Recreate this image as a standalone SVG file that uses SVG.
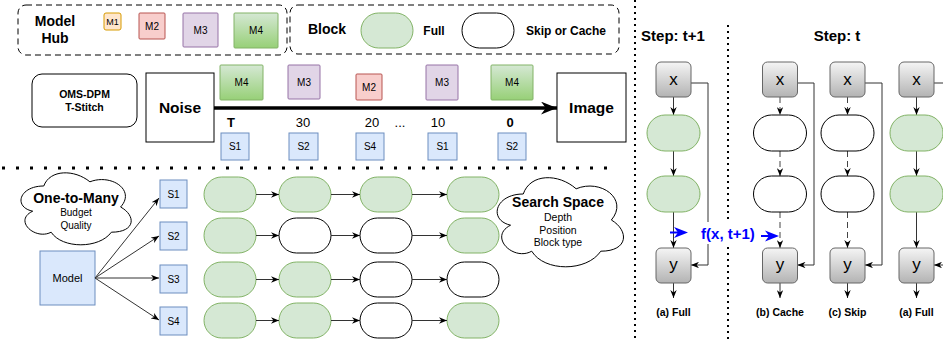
<svg xmlns="http://www.w3.org/2000/svg" width="943" height="339" viewBox="0 0 943 339">
<style>
text{font-family:"Liberation Sans",Arial,sans-serif;text-anchor:middle;fill:#000}
.b{font-weight:bold}
.dash{fill:none;stroke:#000;stroke-width:1;stroke-dasharray:6 4}
.full{fill:#d5e8d4;stroke:#82b366;stroke-width:1}
.empty{fill:#fff;stroke:#000;stroke-width:1}
.blue{fill:#dae8fc;stroke:#6c8ebf;stroke-width:1}
.gbox{fill:url(#gray);stroke:#666;stroke-width:1}
.ln{fill:none;stroke:#333;stroke-width:1;marker-end:url(#ah)}
.dl{fill:none;stroke:#444;stroke-width:1;stroke-dasharray:6 4;marker-end:url(#ah)}
.dotv{stroke:#000;stroke-width:2;stroke-dasharray:2 4}
.doth{stroke:#000;stroke-width:3;stroke-dasharray:3 11}
</style>
<defs>
<linearGradient id="green" x1="0" y1="0" x2="0" y2="1"><stop offset="0" stop-color="#d5e8d4"/><stop offset="1" stop-color="#97d077"/></linearGradient>
<linearGradient id="gray" x1="0" y1="0" x2="0" y2="1"><stop offset="0" stop-color="#f5f5f5"/><stop offset="1" stop-color="#b3b3b3"/></linearGradient>
<marker id="ah" viewBox="0 0 10 8" refX="10" refY="4" markerWidth="8" markerHeight="6.4" orient="auto" markerUnits="userSpaceOnUse"><path d="M0,0 L10,4 L0,8 L3,4 Z" fill="#000"/></marker>
<marker id="big" viewBox="0 0 10 8" refX="10" refY="4" markerWidth="16" markerHeight="13" orient="auto" markerUnits="userSpaceOnUse"><path d="M0,0 L10,4 L0,8 L3,4 Z" fill="#000"/></marker>
</defs>

<!-- separators -->
<line class="doth" x1="2" y1="168" x2="612" y2="168"/>
<line class="dotv" x1="635" y1="0" x2="635" y2="339"/>
<line class="dotv" x1="728" y1="25" x2="728" y2="339"/>

<!-- legends -->
<g id="model-hub">
<rect class="dash" x="18" y="5" width="269" height="50" rx="8"/>
<text class="b" x="55" y="26" font-size="14">Model</text>
<text class="b" x="55" y="43" font-size="14">Hub</text>
<rect x="104" y="13" width="17" height="17" rx="2" fill="#ffe6cc" stroke="#d79b00"/>
<text x="112.5" y="25" font-size="9">M1</text>
<rect x="139" y="13" width="26" height="26" rx="1" fill="#f8cecc" stroke="#b85450"/>
<text x="152" y="29.5" font-size="10">M2</text>
<rect x="183" y="13" width="35" height="34" rx="1" fill="#e1d5e7" stroke="#9673a6"/>
<text x="200.5" y="33.5" font-size="10">M3</text>
<rect x="234" y="13" width="44" height="35" rx="1" fill="url(#green)" stroke="#82b366"/>
<text x="256" y="34" font-size="10">M4</text>
</g>
<g id="block-legend">
<rect class="dash" x="290" y="5" width="329" height="49" rx="8"/>
<text class="b" x="327" y="34" font-size="14">Block</text>
<rect class="full" x="361" y="13" width="52" height="35" rx="17.5"/>
<text class="b" x="434" y="35" font-size="12">Full</text>
<rect class="empty" x="462" y="13" width="52" height="35" rx="17.5"/>
<text class="b" x="566" y="35" font-size="12">Skip or Cache</text>
</g>

<!-- middle timeline -->
<g id="oms-dpm">
<rect x="32" y="74" width="105" height="53" rx="10" fill="#fff" stroke="#000"/>
<text class="b" x="84.5" y="98" font-size="10.5">OMS-DPM</text>
<text class="b" x="84.5" y="111" font-size="10.5">T-Stitch</text>
</g>
<g id="connectors-main">
<line x1="214" y1="108" x2="557" y2="108" stroke="#000" stroke-width="3.5" marker-end="url(#big)"/>
</g>
<g id="noise">
<rect x="146" y="73" width="68" height="69" fill="#fff" stroke="#000"/>
<text class="b" x="180" y="113" font-size="15.5">Noise</text>
</g>
<g id="image">
<rect x="557" y="73" width="69" height="69" fill="#fff" stroke="#000"/>
<text class="b" x="591.5" y="113" font-size="15.5">Image</text>
</g>
<g id="timeline-models">
<rect x="220" y="65" width="43" height="35" rx="1" fill="url(#green)" stroke="#82b366"/>
<text x="241.5" y="86" font-size="10">M4</text>
<rect x="288" y="65" width="32" height="34" rx="1" fill="#e1d5e7" stroke="#9673a6"/>
<text x="304" y="86" font-size="10">M3</text>
<rect x="356" y="74" width="26" height="26" rx="1" fill="#f8cecc" stroke="#b85450"/>
<text x="369" y="90.5" font-size="10">M2</text>
<rect x="426" y="65" width="32" height="35" rx="1" fill="#e1d5e7" stroke="#9673a6"/>
<text x="442" y="86" font-size="10">M3</text>
<rect x="491" y="65" width="42" height="35" rx="1" fill="url(#green)" stroke="#82b366"/>
<text x="512" y="86" font-size="10">M4</text>
</g>
<g id="timeline-steps">
<text class="b" x="231" y="127" font-size="13">T</text>
<text x="303" y="127" font-size="13">30</text>
<text x="372" y="127" font-size="13">20</text>
<text x="400" y="127" font-size="13">...</text>
<text x="438" y="127" font-size="13">10</text>
<text class="b" x="510" y="127" font-size="13">0</text>
</g>
<g id="timeline-schedules">
<rect class="blue" x="221" y="133" width="28" height="27"/>
<text x="235" y="150" font-size="10">S1</text>
<rect class="blue" x="289" y="133" width="29" height="27"/>
<text x="303.5" y="150" font-size="10">S2</text>
<rect class="blue" x="356" y="133" width="28" height="27"/>
<text x="370" y="150" font-size="10">S4</text>
<rect class="blue" x="428" y="133" width="29" height="27"/>
<text x="442.5" y="150" font-size="10">S1</text>
<rect class="blue" x="498" y="133" width="28" height="27"/>
<text x="512" y="150" font-size="10">S2</text>
</g>

<!-- bottom left -->
<g id="one-to-many">
<path d="M43.75,186 C19.15,186 13,207 32.68,211.2 C13,220.44 35.14,240.6 51.13,232.2 C62.2,249 99.1,249 111.4,232.2 C136,232.2 136,215.4 120.6,207 C136,190.2 111.4,173.4 89.9,181.8 C74.5,169.2 49.9,169.2 43.75,186 Z" fill="#fff" stroke="#000"/>
<text class="b" x="76" y="203" font-size="14">One-to-Many</text>
<text x="76" y="216" font-size="10">Budget</text>
<text x="76" y="229" font-size="10">Quality</text>
</g>
<g id="model">
<rect class="blue" x="40" y="251" width="55" height="54"/>
<text x="67.5" y="282" font-size="11">Model</text>
</g>
<g id="s-list">
<rect class="blue" x="160" y="180" width="27" height="28"/>
<text x="173.5" y="197.5" font-size="10">S1</text>
<rect class="blue" x="160" y="222" width="27" height="28"/>
<text x="173.5" y="239.5" font-size="10">S2</text>
<rect class="blue" x="160" y="265" width="27" height="28"/>
<text x="173.5" y="282.5" font-size="10">S3</text>
<rect class="blue" x="160" y="307" width="27" height="28"/>
<text x="173.5" y="324.5" font-size="10">S4</text>
</g>
<g id="blocks">
<rect class="full" x="204" y="177" width="52" height="35" rx="17.5"/>
<rect class="full" x="279" y="177" width="52" height="35" rx="17.5"/>
<rect class="full" x="360" y="177" width="52" height="35" rx="17.5"/>
<rect class="full" x="447" y="177" width="52" height="35" rx="17.5"/>
<rect class="full" x="204" y="218" width="52" height="35" rx="17.5"/>
<rect class="empty" x="279" y="218" width="52" height="35" rx="17.5"/>
<rect class="empty" x="360" y="218" width="52" height="35" rx="17.5"/>
<rect class="full" x="447" y="218" width="52" height="35" rx="17.5"/>
<rect class="full" x="204" y="262" width="52" height="35" rx="17.5"/>
<rect class="full" x="279" y="262" width="52" height="35" rx="17.5"/>
<rect class="empty" x="360" y="262" width="52" height="35" rx="17.5"/>
<rect class="empty" x="447" y="262" width="52" height="35" rx="17.5"/>
<rect class="full" x="204" y="303" width="52" height="35" rx="17.5"/>
<rect class="full" x="279" y="303" width="52" height="35" rx="17.5"/>
<rect class="empty" x="360" y="303" width="52" height="35" rx="17.5"/>
<rect class="full" x="447" y="303" width="52" height="35" rx="17.5"/>
</g>
<g id="search-space">
<path d="M523.25,194 C495.05,194 488,220 510.56,225.2 C488,236.64 513.38,261.6 531.71,251.2 C544.4,272 586.7,272 600.8,251.2 C629,251.2 629,230.4 611.375,220 C629,199.2 600.8,178.4 576.125,188.8 C558.5,173.2 530.3,173.2 523.25,194 Z" fill="#fff" stroke="#000"/>
<text class="b" x="558" y="207" font-size="14">Search Space</text>
<text x="558" y="221" font-size="10.5">Depth</text>
<text x="558" y="233.5" font-size="10.5">Position</text>
<text x="558" y="246" font-size="10.5">Block type</text>
</g>
<g id="connectors-bottom">
<line class="ln" x1="95" y1="278" x2="159" y2="198"/>
<line class="ln" x1="95" y1="278" x2="159" y2="236"/>
<line class="ln" x1="95" y1="278" x2="159" y2="278"/>
<line class="ln" x1="95" y1="278" x2="159" y2="320"/>
<line class="ln" x1="256" y1="194.5" x2="279" y2="194.5"/>
<line class="ln" x1="331" y1="194.5" x2="360" y2="194.5"/>
<line class="ln" x1="412" y1="194.5" x2="447" y2="194.5"/>
<line class="ln" x1="256" y1="235.5" x2="279" y2="235.5"/>
<line class="ln" x1="331" y1="235.5" x2="360" y2="235.5"/>
<line class="ln" x1="412" y1="235.5" x2="447" y2="235.5"/>
<line class="ln" x1="256" y1="279.5" x2="279" y2="279.5"/>
<line class="ln" x1="331" y1="279.5" x2="360" y2="279.5"/>
<line class="ln" x1="412" y1="279.5" x2="447" y2="279.5"/>
<line class="ln" x1="256" y1="320.5" x2="279" y2="320.5"/>
<line class="ln" x1="331" y1="320.5" x2="360" y2="320.5"/>
<line class="ln" x1="412" y1="320.5" x2="447" y2="320.5"/>
</g>

<!-- right panel -->
<text class="b" x="673" y="41" font-size="15">Step: t+1</text>
<text class="b" x="837" y="41" font-size="15">Step: t</text>

<g id="connectors-right">
<line class="ln" x1="673.5" y1="97" x2="673.5" y2="115"/>
<line class="ln" x1="673.5" y1="151" x2="673.5" y2="176"/>
<line class="ln" x1="673.5" y1="212" x2="673.5" y2="248"/>
<line class="ln" x1="673.5" y1="283" x2="673.5" y2="298"/>
<path class="ln" d="M691,83 H708 V265 H691"/>
<line class="dl" x1="780" y1="97" x2="780" y2="115"/>
<line class="dl" x1="780" y1="151" x2="780" y2="176"/>
<line class="dl" x1="780" y1="212" x2="780" y2="248"/>
<line class="ln" x1="780" y1="283" x2="780" y2="298"/>
<path class="ln" d="M797.5,83 H814 V265 H797.5"/>
<line class="dl" x1="847.5" y1="97" x2="847.5" y2="115"/>
<line class="dl" x1="847.5" y1="151" x2="847.5" y2="176"/>
<line class="dl" x1="847.5" y1="212" x2="847.5" y2="248"/>
<line class="ln" x1="847.5" y1="283" x2="847.5" y2="298"/>
<path class="ln" d="M865,83 H882 V265 H865"/>
<line class="ln" x1="916.5" y1="97" x2="916.5" y2="115"/>
<line class="ln" x1="916.5" y1="151" x2="916.5" y2="176"/>
<line class="ln" x1="916.5" y1="212" x2="916.5" y2="248"/>
<line class="ln" x1="916.5" y1="283" x2="916.5" y2="298"/>
<path class="ln" d="M934,83 H950 V265 H934"/>
</g>

<g id="col-full-t1">
<rect class="gbox" x="656" y="62" width="35" height="35" rx="5"/>
<text x="673.5" y="85" font-size="17">x</text>
<rect class="full" x="647" y="115" width="53" height="36" rx="18"/>
<rect class="full" x="647" y="176" width="53" height="36" rx="18"/>
<rect class="gbox" x="656" y="248" width="35" height="35" rx="5"/>
<text x="673.5" y="270" font-size="17">y</text>
<text class="b" x="673.5" y="316" font-size="10.5">(a) Full</text>
</g>
<g id="col-cache">
<rect class="gbox" x="762.5" y="62" width="35" height="35" rx="5"/>
<text x="780" y="85" font-size="17">x</text>
<rect class="empty" x="753.5" y="115" width="53" height="36" rx="18"/>
<rect class="empty" x="753.5" y="176" width="53" height="36" rx="18"/>
<rect class="gbox" x="762.5" y="248" width="35" height="35" rx="5"/>
<text x="780" y="270" font-size="17">y</text>
<text class="b" x="780" y="316" font-size="10.5">(b) Cache</text>
</g>
<g id="col-skip">
<rect class="gbox" x="830" y="62" width="35" height="35" rx="5"/>
<text x="847.5" y="85" font-size="17">x</text>
<rect class="empty" x="821" y="115" width="53" height="36" rx="18"/>
<rect class="empty" x="821" y="176" width="53" height="36" rx="18"/>
<rect class="gbox" x="830" y="248" width="35" height="35" rx="5"/>
<text x="847.5" y="270" font-size="17">y</text>
<text class="b" x="847.5" y="316" font-size="10.5">(c) Skip</text>
</g>
<g id="col-full-t">
<rect class="gbox" x="899" y="62" width="35" height="35" rx="5"/>
<text x="916.5" y="85" font-size="17">x</text>
<rect class="full" x="890" y="115" width="53" height="36" rx="18"/>
<rect class="full" x="890" y="176" width="53" height="36" rx="18"/>
<rect class="gbox" x="899" y="248" width="35" height="35" rx="5"/>
<text x="916.5" y="270" font-size="17">y</text>
<text class="b" x="916.5" y="316" font-size="10.5">(a) Full</text>
</g>

<g id="fx-label">
<rect x="699" y="222" width="58" height="22" fill="#fff"/>
<line x1="670" y1="232.5" x2="680" y2="232.5" stroke="#0000ff" stroke-width="2"/>
<path d="M674,227 L688,232.5 L674,238 L678,232.5 Z" fill="#0000ff"/>
<text class="b" x="728" y="239" font-size="15" style="fill:#0000ff">f(x, t+1)</text>
<line x1="761" y1="236" x2="770" y2="236" stroke="#0000ff" stroke-width="2"/>
<path d="M765,230.5 L779,236 L765,241.5 L769,236 Z" fill="#0000ff"/>
</g>
</svg>
